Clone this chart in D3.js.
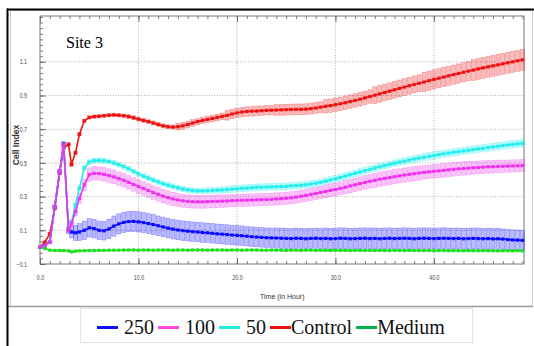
<!DOCTYPE html>
<html>
<head>
  <meta charset="utf-8">
  <script src="https://d3js.org/d3.v7.min.js"></script>
  <style>
    body { margin: 0; background: #fff; }
    .tick text { font-family: "Liberation Sans", Arial, sans-serif; font-size: 6.6px; fill: #444; }
    .axis path { display: none; }
    .axis line { stroke: #555; stroke-width: 0.8px; }
    .grid line { stroke: #9a9a9a; stroke-width: 0.8px; stroke-dasharray: 1,1.6; }
    .axlabel { font-family: "Liberation Sans", Arial, sans-serif; fill: #333; }
  </style>
</head>
<body>
<div id="plot"></div>
<script>
// sampling times (hours)
var times = [0, 0.5, 1, 1.5, 2, 2.4, 2.9, 3.2, 3.6,
  4, 4.5, 5, 5.5, 6, 6.5, 7, 7.5, 8, 8.5,
  9, 9.5, 10, 10.5, 11, 11.5, 12, 12.5, 13, 13.5,
  14, 14.5, 15, 15.5, 16, 16.5, 17, 17.5, 18, 18.5,
  19, 19.5, 20, 20.5, 21, 21.5, 22, 22.5, 23, 23.5,
  24, 24.5, 25, 25.5, 26, 26.5, 27, 27.5, 28, 28.5,
  29, 29.5, 30, 30.5, 31, 31.5, 32, 32.5, 33, 33.5,
  34, 34.5, 35, 35.5, 36, 36.5, 37, 37.5, 38, 38.5,
  39, 39.5, 40, 40.5, 41, 41.5, 42, 42.5, 43, 43.5,
  44, 44.5, 45, 45.5, 46, 46.5, 47, 47.5, 48, 48.5,
  49];

var ci250 = [0, 0.01, 0.03, 0.24, 0.45, 0.615, 0.10, 0.09, 0.085,
  0.09, 0.10, 0.115, 0.11, 0.10, 0.097, 0.108, 0.125, 0.138, 0.147,
  0.152, 0.153, 0.15, 0.146, 0.14, 0.134, 0.127, 0.12, 0.113, 0.107,
  0.102, 0.098, 0.095, 0.092, 0.09, 0.087, 0.085, 0.082, 0.079, 0.077,
  0.075, 0.072, 0.07, 0.068, 0.065, 0.062, 0.06, 0.058, 0.056, 0.055,
  0.054, 0.053, 0.052, 0.051, 0.053, 0.052, 0.050, 0.052, 0.053, 0.051,
  0.052, 0.050, 0.051, 0.053, 0.052, 0.050, 0.051, 0.052, 0.053, 0.051,
  0.052, 0.050, 0.052, 0.053, 0.051, 0.052, 0.053, 0.052, 0.050, 0.052,
  0.053, 0.052, 0.051, 0.052, 0.053, 0.052, 0.051, 0.052, 0.050, 0.051,
  0.052, 0.051, 0.050, 0.051, 0.049, 0.050, 0.048, 0.045, 0.043, 0.042,
  0.040];
var sd250 = [0, 0, 0.005, 0.01, 0.01, 0.01, 0.02, 0.035, 0.045,
  0.05, 0.055, 0.055, 0.055, 0.055, 0.055, 0.058, 0.06, 0.06, 0.06,
  0.06, 0.06, 0.06, 0.06, 0.06, 0.06, 0.058, 0.058, 0.058, 0.058,
  0.058, 0.058, 0.058, 0.058, 0.058, 0.058, 0.058, 0.058, 0.058, 0.058,
  0.058, 0.058, 0.058, 0.058, 0.058, 0.058, 0.058, 0.058, 0.058, 0.058,
  0.06, 0.06, 0.06, 0.06, 0.06, 0.06, 0.06, 0.06, 0.06, 0.06,
  0.062, 0.062, 0.062, 0.062, 0.062, 0.062, 0.062, 0.062, 0.062, 0.062,
  0.062, 0.062, 0.062, 0.062, 0.062, 0.062, 0.062, 0.062, 0.062, 0.062,
  0.062, 0.062, 0.062, 0.062, 0.062, 0.062, 0.062, 0.062, 0.062, 0.062,
  0.062, 0.062, 0.062, 0.062, 0.062, 0.062, 0.06, 0.06, 0.06, 0.06,
  0.06];

var ci100 = [0, 0.01, 0.03, 0.24, 0.45, 0.61, 0.10, 0.14, 0.21,
  0.29, 0.37, 0.43, 0.438, 0.437, 0.432, 0.425, 0.417, 0.407, 0.397,
  0.385, 0.372, 0.36, 0.348, 0.336, 0.324, 0.313, 0.303, 0.294, 0.286,
  0.28, 0.275, 0.272, 0.27, 0.269, 0.269, 0.27, 0.271, 0.272, 0.273,
  0.274, 0.276, 0.277, 0.278, 0.279, 0.28, 0.281, 0.282, 0.283, 0.284,
  0.286, 0.288, 0.29, 0.293, 0.297, 0.302, 0.307, 0.313, 0.319, 0.325,
  0.331, 0.337, 0.342, 0.349, 0.356, 0.363, 0.37, 0.377, 0.384, 0.391,
  0.397, 0.403, 0.408, 0.413, 0.418, 0.423, 0.428, 0.432, 0.436, 0.44,
  0.444, 0.447, 0.45, 0.453, 0.456, 0.459, 0.462, 0.465, 0.467, 0.469,
  0.471, 0.473, 0.475, 0.477, 0.478, 0.479, 0.48, 0.481, 0.482, 0.483,
  0.484];
var sd100 = [0, 0, 0.005, 0.01, 0.01, 0.01, 0.015, 0.02, 0.025,
  0.03, 0.035, 0.04, 0.04, 0.04, 0.04, 0.04, 0.04, 0.04, 0.04,
  0.04, 0.04, 0.04, 0.04, 0.04, 0.04, 0.04, 0.04, 0.04, 0.04,
  0.038, 0.038, 0.038, 0.038, 0.038, 0.038, 0.038, 0.038, 0.038, 0.038,
  0.036, 0.036, 0.036, 0.036, 0.036, 0.036, 0.036, 0.036, 0.036, 0.036,
  0.036, 0.036, 0.036, 0.036, 0.036, 0.036, 0.036, 0.036, 0.036, 0.036,
  0.038, 0.038, 0.038, 0.038, 0.04, 0.04, 0.04, 0.04, 0.04, 0.04,
  0.042, 0.042, 0.042, 0.042, 0.042, 0.042, 0.042, 0.042, 0.042, 0.042,
  0.04, 0.04, 0.04, 0.04, 0.04, 0.04, 0.04, 0.04, 0.04, 0.04,
  0.038, 0.038, 0.038, 0.038, 0.038, 0.038, 0.036, 0.036, 0.036, 0.036,
  0.036];

var ci50 = [0, 0.01, 0.03, 0.24, 0.45, 0.61, 0.10, 0.15, 0.25,
  0.35, 0.47, 0.505, 0.513, 0.515, 0.513, 0.508, 0.5, 0.49, 0.478,
  0.465, 0.45, 0.435, 0.422, 0.41, 0.398, 0.387, 0.377, 0.368, 0.36,
  0.352, 0.345, 0.34, 0.336, 0.334, 0.334, 0.335, 0.336, 0.338, 0.34,
  0.342, 0.344, 0.347, 0.349, 0.351, 0.353, 0.355, 0.356, 0.357, 0.358,
  0.359, 0.36, 0.361, 0.363, 0.365, 0.367, 0.37, 0.374, 0.379, 0.385,
  0.392, 0.399, 0.406, 0.414, 0.422, 0.43, 0.438, 0.446, 0.454, 0.462,
  0.47, 0.477, 0.484, 0.491, 0.498, 0.505, 0.511, 0.517, 0.523, 0.529,
  0.534, 0.539, 0.544, 0.549, 0.554, 0.558, 0.563, 0.567, 0.571, 0.575,
  0.579, 0.583, 0.587, 0.591, 0.595, 0.599, 0.603, 0.607, 0.61, 0.613,
  0.616];
var sd50 = [0, 0, 0.005, 0.008, 0.008, 0.008, 0.01, 0.01, 0.012,
  0.014, 0.015, 0.015, 0.015, 0.015, 0.015, 0.015, 0.015, 0.015, 0.015,
  0.015, 0.015, 0.015, 0.015, 0.015, 0.015, 0.016, 0.016, 0.016, 0.016,
  0.016, 0.016, 0.016, 0.016, 0.016, 0.016, 0.018, 0.018, 0.018, 0.018,
  0.02, 0.02, 0.02, 0.02, 0.02, 0.02, 0.02, 0.02, 0.02, 0.02,
  0.02, 0.02, 0.02, 0.02, 0.02, 0.02, 0.02, 0.02, 0.02, 0.02,
  0.02, 0.02, 0.02, 0.02, 0.02, 0.02, 0.02, 0.02, 0.02, 0.02,
  0.02, 0.02, 0.02, 0.02, 0.02, 0.02, 0.02, 0.02, 0.02, 0.02,
  0.022, 0.022, 0.022, 0.022, 0.022, 0.022, 0.022, 0.022, 0.022, 0.022,
  0.022, 0.022, 0.022, 0.022, 0.022, 0.022, 0.022, 0.022, 0.022, 0.022,
  0.022];

var ciControl = [0, 0.03, 0.08, 0.23, 0.44, 0.59, 0.61, 0.49, 0.56,
  0.67, 0.75, 0.77, 0.775, 0.777, 0.78, 0.783, 0.785, 0.783, 0.78,
  0.775, 0.768, 0.76, 0.752, 0.745, 0.737, 0.728, 0.72, 0.715, 0.713,
  0.715, 0.72, 0.728, 0.737, 0.745, 0.752, 0.758, 0.764, 0.77, 0.776,
  0.782, 0.79, 0.797, 0.802, 0.805, 0.807, 0.808, 0.81, 0.812, 0.813,
  0.814, 0.815, 0.816, 0.817, 0.818, 0.818, 0.819, 0.822, 0.826, 0.831,
  0.836, 0.84, 0.845, 0.851, 0.857, 0.864, 0.871, 0.878, 0.886, 0.894,
  0.902, 0.91, 0.918, 0.926, 0.934, 0.942, 0.95, 0.958, 0.966, 0.973,
  0.98, 0.988, 0.996, 1.003, 1.01, 1.017, 1.024, 1.031, 1.038, 1.045,
  1.051, 1.058, 1.064, 1.07, 1.076, 1.082, 1.088, 1.094, 1.1, 1.106,
  1.112];
var sdControl = [0, 0.005, 0.008, 0.01, 0.01, 0.01, 0.01, 0.01, 0.01,
  0.01, 0.01, 0.01, 0.01, 0.01, 0.01, 0.01, 0.01, 0.01, 0.01,
  0.012, 0.012, 0.012, 0.012, 0.012, 0.012, 0.012, 0.012, 0.012, 0.012,
  0.02, 0.02, 0.02, 0.02, 0.02, 0.02, 0.02, 0.02, 0.02, 0.02,
  0.028, 0.028, 0.028, 0.028, 0.028, 0.028, 0.028, 0.028, 0.028, 0.028,
  0.032, 0.032, 0.032, 0.032, 0.032, 0.032, 0.032, 0.032, 0.032, 0.032,
  0.04, 0.04, 0.04, 0.04, 0.04, 0.04, 0.04, 0.04, 0.04, 0.04,
  0.05, 0.05, 0.05, 0.05, 0.05, 0.05, 0.05, 0.05, 0.05, 0.05,
  0.057, 0.057, 0.057, 0.057, 0.057, 0.057, 0.057, 0.057, 0.057, 0.057,
  0.062, 0.062, 0.062, 0.062, 0.062, 0.062, 0.062, 0.062, 0.062, 0.062,
  0.062];

var ciMedium = [0, -0.008, -0.018, -0.02, -0.02, -0.02, -0.022, -0.028, -0.024,
  -0.022, -0.021, -0.02, -0.02, -0.019, -0.019, -0.018, -0.018, -0.018, -0.017,
  -0.017, -0.017, -0.018, -0.017, -0.017, -0.018, -0.017, -0.017, -0.017, -0.018,
  -0.017, -0.017, -0.018, -0.017, -0.017, -0.017, -0.018, -0.017, -0.017, -0.017,
  -0.018, -0.017, -0.017, -0.018, -0.017, -0.017, -0.017, -0.018, -0.018, -0.017,
  -0.018, -0.018, -0.019, -0.018, -0.018, -0.019, -0.018, -0.018, -0.019, -0.018,
  -0.019, -0.019, -0.018, -0.019, -0.019, -0.02, -0.019, -0.019, -0.02, -0.019,
  -0.02, -0.019, -0.02, -0.02, -0.019, -0.02, -0.02, -0.019, -0.02, -0.02,
  -0.02, -0.02, -0.021, -0.02, -0.02, -0.021, -0.02, -0.021, -0.021, -0.02,
  -0.021, -0.021, -0.02, -0.021, -0.021, -0.022, -0.021, -0.021, -0.022, -0.021,
  -0.022];
var sdMedium = times.map(function(){ return 0.005; });

var seriesNames = ['250', '100', '50', 'Control', 'Medium'];
var lineColors = ['#0a0aff', '#ee33ee', '#22eeee', '#ee1111', '#22dd22'];
var legendColors = ['#1010ee', '#ff44dd', '#22eedd', '#ee1111', '#00b050'];
var xTicks = [0, 10, 20, 30, 40];
var yTicks = [-0.1, 0.1, 0.3, 0.5, 0.7, 0.9, 1.1];

var serifFont = '"Liberation Serif", Tinos, "Noto Serif", "DejaVu Serif", FreeSerif, "Times New Roman", serif';
var narrow = 0.8;

var W = 534, H = 346;
var margin = {top: 16, left: 40, right: 10, bottom: 82};
var pw = W - margin.left - margin.right,
    ph = H - margin.top - margin.bottom;

var svg = d3.select('#plot').append('svg')
  .attr('width', W).attr('height', H);

// outer frames
svg.append('rect').attr('x', 10.5).attr('y', 10.5).attr('width', 522).attr('height', 296)
  .attr('fill', 'none').attr('stroke', '#c8c8c8').attr('stroke-width', 1);
svg.append('line').attr('x1', 8).attr('x2', 533).attr('y1', 306.5).attr('y2', 306.5)
  .attr('stroke', '#9a9a9a').attr('stroke-width', 1.6);
svg.append('line').attr('x1', 7).attr('x2', 534).attr('y1', 9.5).attr('y2', 9.5)
  .attr('stroke', '#000').attr('stroke-width', 2);
svg.append('line').attr('x1', 7.5).attr('x2', 7.5).attr('y1', 8.5).attr('y2', 346)
  .attr('stroke', '#000').attr('stroke-width', 2);
svg.append('rect').attr('x', 80.5).attr('y', 308.5).attr('width', 392).attr('height', 34)
  .attr('fill', 'none').attr('stroke', '#e2e2e2').attr('stroke-width', 1);

var g = svg.append('g').attr('transform', 'translate(' + margin.left + ',' + margin.top + ')');

var x = d3.scaleLinear().domain([0, 49.15]).range([0, pw]);
var y = d3.scaleLinear().domain([-0.1, 1.372]).range([ph, 0]);

// grid
g.append('g').attr('class', 'grid')
  .selectAll('line').data(xTicks.slice(1)).enter().append('line')
  .attr('x1', function(d){ return x(d); }).attr('x2', function(d){ return x(d); })
  .attr('y1', 0).attr('y2', ph);
g.append('g').attr('class', 'grid')
  .selectAll('line').data(yTicks.slice(1)).enter().append('line')
  .attr('y1', function(d){ return y(d); }).attr('y2', function(d){ return y(d); })
  .attr('x1', 0).attr('x2', pw);

// axes
var minorX = d3.range(0, 50, 1);
var minorY = d3.range(0, 45).map(function(i){ return -0.1 + i * 0.2 / 6; });

g.append('g').attr('class', 'axis').attr('transform', 'translate(0,' + ph + ')')
  .call(d3.axisBottom(x).tickValues(minorX).tickSize(-3).tickFormat(''));
var xAx = g.append('g').attr('class', 'axis').attr('transform', 'translate(0,' + ph + ')')
  .call(d3.axisBottom(x).tickValues(xTicks).tickSize(-6).tickPadding(11).tickFormat(d3.format('.1f')));
xAx.selectAll('text').attr('transform', 'scale(' + narrow + ',1)');
g.append('g').attr('class', 'axis')
  .call(d3.axisTop(x).tickValues(minorX).tickSize(-3).tickFormat(''));
g.append('g').attr('class', 'axis')
  .call(d3.axisTop(x).tickValues(xTicks).tickSize(-6).tickFormat(''));
g.append('g').attr('class', 'axis')
  .call(d3.axisLeft(y).tickValues(minorY).tickSize(-3).tickFormat(''));
var yAx = g.append('g').attr('class', 'axis')
  .call(d3.axisLeft(y).tickValues(yTicks).tickSize(-6).tickPadding(13).tickFormat(d3.format('.1f')));
yAx.selectAll('text').attr('x', -13 / narrow).attr('transform', 'scale(' + narrow + ',1)');

g.append('rect').attr('width', pw).attr('height', ph)
  .attr('fill', 'none').attr('stroke', '#777').attr('stroke-width', 1);

// axis labels
g.append('text').attr('class', 'axlabel')
  .attr('transform', 'translate(-21,' + (ph / 2 + 5) + ') rotate(-90)')
  .style('font-size', '8.6px').style('font-weight', 'bold')
  .attr('text-anchor', 'middle').text('Cell Index');
g.append('text').attr('class', 'axlabel')
  .attr('transform', 'translate(' + x(24.6) + ',' + (ph + 35) + ') scale(0.88,1)')
  .style('font-size', '8px')
  .attr('text-anchor', 'middle').text('Time (in Hour)');

g.append('text')
  .attr('x', 26).attr('y', 32)
  .style('font-family', serifFont).style('font-size', '16px').text('Site 3');

// series
var allValues = [ci250, ci100, ci50, ciControl, ciMedium];
var allSd = [sd250, sd100, sd50, sdControl, sdMedium];
var series = seriesNames.map(function(name, k){
  return {
    name: name, color: lineColors[k],
    pts: times.map(function(t, i){ return {t: t, v: allValues[k][i], e: allSd[k][i]}; })
  };
});
var drawOrder = [4, 3, 0, 2, 1];

var marks = g.append('g');
drawOrder.forEach(function(k){
  var s = series[k];
  marks.append('g').selectAll('rect').data(s.pts.filter(function(d){ return d.e > 0.004; }))
    .enter().append('rect')
    .attr('x', function(d){ return x(d.t) - 2; })
    .attr('width', 4)
    .attr('y', function(d){ return y(d.v + d.e); })
    .attr('height', function(d){ return y(d.v - d.e) - y(d.v + d.e); })
    .attr('fill', s.color).attr('fill-opacity', 0.28)
    .attr('stroke', s.color).attr('stroke-opacity', 0.4).attr('stroke-width', 0.6);
});

var line = d3.line().x(function(d){ return x(d.t); }).y(function(d){ return y(d.v); });
drawOrder.forEach(function(k){
  var s = series[k];
  marks.append('path').datum(s.pts).attr('d', line)
    .attr('fill', 'none').attr('stroke', s.color).attr('stroke-width', 1.6);
  marks.append('g').selectAll('rect').data(s.pts).enter().append('rect')
    .attr('x', function(d){ return x(d.t) - 1.6; })
    .attr('y', function(d){ return y(d.v) - 1.6; })
    .attr('width', 3.2).attr('height', 3.2)
    .attr('fill', s.color);
});

// legend
var leg = svg.append('g');
var cursor = 97;
seriesNames.forEach(function(name, k){
  leg.append('line').attr('x1', cursor).attr('x2', cursor + 21)
    .attr('y1', 327.5).attr('y2', 327.5)
    .attr('stroke', legendColors[k]).attr('stroke-width', 3);
  var pad = isNaN(+name) ? 0 : 6;
  var t = leg.append('text')
    .attr('x', cursor + 21 + pad).attr('y', 334)
    .style('font-family', serifFont).style('font-size', '20px')
    .attr('fill', '#111').text(name);
  cursor = cursor + 21 + pad + t.node().getComputedTextLength() + 4;
});
</script>
</body>
</html>
